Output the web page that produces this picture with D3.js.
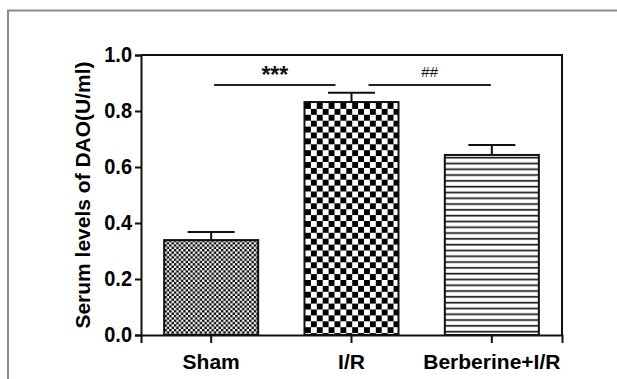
<!DOCTYPE html>
<html>
<head>
<meta charset="utf-8">
<script src="https://cdn.jsdelivr.net/npm/d3@7"></script>
<style>
  body { margin: 0; background: #fff; }
  svg { display: block; font-family: "Liberation Sans", Arial, sans-serif; }
</style>
</head>
<body>
<div class="svg-chart"></div>
<script>
// chart values
const groups = ["Sham", "I/R", "Berberine+I/R"];
const means = [0.339, 0.832, 0.643];
const sems = [0.029, 0.033, 0.036];
const patterns = ["fineCheck", "bigCheck", "hLines"];
const yTicks = [0.0, 0.2, 0.4, 0.6, 0.8, 1.0];
const yLabel = "Serum levels of DAO(U/ml)";
// significance brackets
const compFrom = ["Sham", "I/R"];
const compTo = ["I/R", "Berberine+I/R"];
const compMark = ["***", "##"];
const compLevel = [0.893, 0.893];

const width = 617, height = 379;
const margin = { top: 55, right: 55, bottom: 44, left: 141 };

const svg = d3.select('.svg-chart').append('svg')
    .attr('width', width)
    .attr('height', height);

const defs = svg.append('defs');

// fine checkerboard (Sham)
let p = defs.append('pattern').attr('id', 'fineCheck')
    .attr('patternUnits', 'userSpaceOnUse')
    .attr('width', 4.7).attr('height', 4.7);
p.append('rect').attr('width', 4.7).attr('height', 4.7).attr('fill', '#fff');
p.append('rect').attr('width', 2.35).attr('height', 2.35).attr('fill', '#000');
p.append('rect').attr('x', 2.35).attr('y', 2.35).attr('width', 2.35).attr('height', 2.35).attr('fill', '#000');

// large checkerboard (I/R)
p = defs.append('pattern').attr('id', 'bigCheck')
    .attr('patternUnits', 'userSpaceOnUse')
    .attr('width', 11.8).attr('height', 11.8)
    .attr('x', 305).attr('y', 103);
p.append('rect').attr('width', 11.8).attr('height', 11.8).attr('fill', '#fff');
p.append('rect').attr('width', 5.9).attr('height', 5.9).attr('fill', '#000');
p.append('rect').attr('x', 5.9).attr('y', 5.9).attr('width', 5.9).attr('height', 5.9).attr('fill', '#000');

// horizontal lines (Berberine+I/R)
p = defs.append('pattern').attr('id', 'hLines')
    .attr('patternUnits', 'userSpaceOnUse')
    .attr('width', 10).attr('height', 5.8)
    .attr('y', 155);
p.append('rect').attr('width', 10).attr('height', 5.8).attr('fill', '#fff');
p.append('rect').attr('y', 1.8).attr('width', 10).attr('height', 1.7).attr('fill', '#1a1a1a');

// outer frame
svg.append('path')
    .attr('d', 'M8,379 L8,10.5 L617,10.5')
    .attr('fill', 'none')
    .attr('stroke', '#8a8a8a')
    .attr('stroke-width', 2);

const x = d3.scaleBand()
    .domain(groups)
    .range([margin.left, width - margin.right])
    .paddingInner(0.33)
    .paddingOuter(0.165);

const y = d3.scaleLinear()
    .domain([0, 1])
    .range([height - margin.bottom, margin.top]);

const ink = '#111';

// bars
svg.selectAll('.bar')
    .data(groups)
    .enter()
    .append('rect')
    .attr('x', d => x(d))
    .attr('y', (d, i) => y(means[i]))
    .attr('width', x.bandwidth())
    .attr('height', (d, i) => y(0) - y(means[i]))
    .attr('fill', (d, i) => 'url(#' + patterns[i] + ')')
    .attr('stroke', ink)
    .attr('stroke-width', 2);

// error bars (upper only)
const capHalf = x.bandwidth() / 4;
groups.forEach((g, i) => {
    const cx = x(g) + x.bandwidth() / 2;
    svg.append('line')
        .attr('x1', cx).attr('x2', cx)
        .attr('y1', y(means[i])).attr('y2', y(means[i] + sems[i]))
        .attr('stroke', ink).attr('stroke-width', 2);
    svg.append('line')
        .attr('x1', cx - capHalf).attr('x2', cx + capHalf)
        .attr('y1', y(means[i] + sems[i])).attr('y2', y(means[i] + sems[i]))
        .attr('stroke', ink).attr('stroke-width', 2);
});

// plot box (top + right)
svg.append('path')
    .attr('d', `M${margin.left},${y(1)} L${width - margin.right},${y(1)} L${width - margin.right},${y(0)}`)
    .attr('fill', 'none')
    .attr('stroke', ink)
    .attr('stroke-width', 2);

// y axis
const yAxis = svg.append('g')
    .attr('transform', `translate(${margin.left},0)`)
    .call(d3.axisLeft(y).tickValues(yTicks).tickFormat(d3.format('.1f')).tickSize(6).tickPadding(3));
yAxis.select('.domain').attr('stroke', ink).attr('stroke-width', 2);
yAxis.selectAll('.tick line').attr('stroke', ink).attr('stroke-width', 2);
yAxis.selectAll('.tick text')
    .attr('fill', '#000')
    .style('font-size', '20px')
    .style('font-weight', 'bold')
    .attr('transform', 'scale(1,1.12)')
    .attr('dy', '0.28em');

// x axis
const xAxis = svg.append('g')
    .attr('transform', `translate(0,${y(0)})`)
    .call(d3.axisBottom(x).tickSize(8).tickPadding(11));
xAxis.select('.domain').attr('stroke', ink).attr('stroke-width', 2);
xAxis.selectAll('.tick line').attr('stroke', ink).attr('stroke-width', 2);
xAxis.selectAll('.tick text')
    .attr('fill', '#000')
    .style('font-size', '21px')
    .style('font-weight', 'bold');

// y label
svg.append('text')
    .attr('transform', `translate(90,${(y(0) + y(1)) / 2}) rotate(-90)`)
    .attr('text-anchor', 'middle')
    .attr('fill', '#000')
    .style('font-size', '21px')
    .style('font-weight', 'bold')
    .text(yLabel);

// significance brackets
const ctr = g => x(g) + x.bandwidth() / 2;
compFrom.forEach((a, i) => {
    const b = compTo[i];
    // small gap at the I/R end, where the two lines meet
    const x1 = ctr(a) + (a === "I/R" ? 17 : 3);
    const x2 = ctr(b) - (b === "I/R" ? 16 : 1);
    const ly = y(compLevel[i]);
    svg.append('line')
        .attr('x1', x1).attr('x2', x2)
        .attr('y1', ly).attr('y2', ly)
        .attr('stroke', '#222').attr('stroke-width', 2);
    svg.append('text')
        .attr('x', (x1 + x2) / 2)
        .attr('y', compMark[i] === '***' ? ly - 2 : ly - 8)
        .attr('text-anchor', 'middle')
        .attr('fill', '#111')
        .style('font-size', compMark[i] === '***' ? '23px' : '15px')
        .style('font-weight', compMark[i] === '***' ? 'bold' : 'normal')
        .text(compMark[i]);
});
</script>
</body>
</html>
